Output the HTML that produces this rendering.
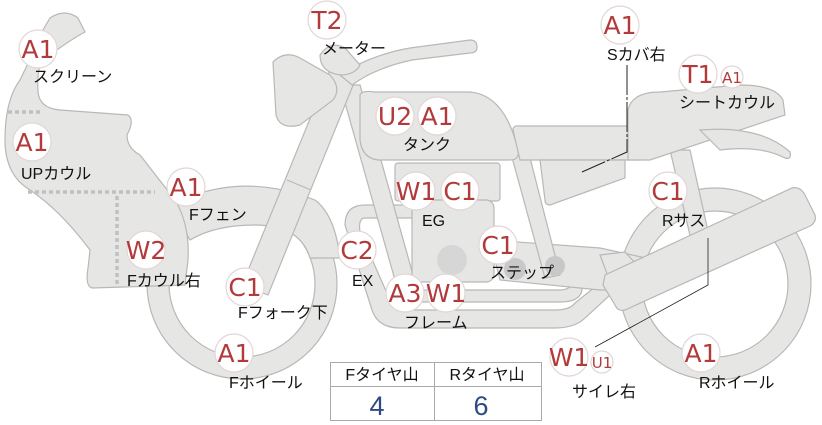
<!DOCTYPE html>
<html><head><meta charset="utf-8"><style>
html,body{margin:0;padding:0;background:#fff;}
svg{display:block;}
.s{fill:#e6e6e4;stroke:#b8b8b8;stroke-width:1.2;}
.b circle{fill:#fff;stroke:#e2d6d6;stroke-width:1.2;}
.b text{fill:#b23a3a;font-family:"DejaVu Sans","Liberation Sans",sans-serif;font-size:25px;text-anchor:middle;}
.l{font-family:"Liberation Sans","Noto Sans CJK JP",sans-serif;font-size:16px;fill:#111;}
</style></head><body>
<svg width="822" height="425" viewBox="0 0 822 425" xmlns="http://www.w3.org/2000/svg">
<circle cx="242" cy="284" r="95" class="s"/>
<circle cx="242" cy="284" r="73" fill="#fff" stroke="#b8b8b8" stroke-width="1.2"/>
<circle cx="715" cy="284" r="96" class="s"/>
<circle cx="715" cy="284" r="73" fill="#fff" stroke="#b8b8b8" stroke-width="1.2"/>
<path class="s" d="M170 205 Q240 170 315 200 Q335 215 340 258 L310 258 Q300 225 255 225 Q215 225 190 240 Z"/>
<path class="s" d="M345 225 Q345 205 365 205 L420 205 L420 218 L365 218 Q358 218 360 232 L390 300 Q395 310 410 310 L555 310 Q570 310 575 303 L600 283 L610 295 L585 318 Q575 328 555 328 L400 328 Q378 328 372 310 Z"/>
<path class="s" d="M395 290 L560 290 Q572 290 572 280 L572 265 L580 265 L582 290 Q580 302 560 302 L400 302 Z"/>
<path class="s" d="M340 85 L360 85 L420 300 L402 305 Z"/>
<rect class="s" x="395" y="163" width="105" height="38" rx="3"/>
<rect class="s" x="412" y="200" width="82" height="82" rx="8"/>
<circle cx="452" cy="260" r="15" fill="#d6d6d6"/>
<path class="s" d="M490 240 L600 248 L655 260 L655 290 L600 290 L500 280 Z"/>
<path class="s" d="M600 255 L625 252 L660 290 L615 295 Z"/>
<path class="s" d="M510 150 L528 150 L560 275 L545 278 Z"/>
<circle cx="515" cy="269" r="11" fill="#c8c8c8"/><circle cx="555" cy="266" r="10" fill="#c8c8c8"/>
<path class="s" d="M670 150 L690 150 L710 240 L692 244 Z"/>
<path class="s" d="M605 275 L792 188 Q800 186 805 195 L815 215 Q817 222 810 226 L625 310 Q618 312 615 305 L603 285 Z"/>
<path class="s" d="M360 95 Q362 90 375 92 L470 92 Q505 95 518 150 Q520 160 510 160 L378 160 Q362 158 360 140 Z"/>
<path class="s" d="M513 130 Q513 125 520 126 L640 126 L640 160 L520 160 Z"/>
<path class="s" d="M540 160 L625 160 L625 178 L550 205 Q545 205 545 200 Z"/>
<path class="s" d="M628 110 Q632 92 660 92 L740 85 Q775 85 783 100 L785 115 L650 160 L628 160 Z"/>
<path class="s" d="M700 130 Q760 125 790 152 Q792 160 785 158 Q760 145 720 150 Z"/>
<path class="s" d="M330 70 L356 78 L268 295 L242 285 Z"/>
<path d="M287 180 L311 190" stroke="#b8b8b8" stroke-width="1.2"/>
<path class="s" d="M273 62 Q285 50 300 58 L330 75 Q342 88 333 100 L300 125 Q280 130 276 115 Z"/>
<path class="s" d="M340 75 Q370 55 410 48 L470 40 Q477 40 477 47 Q477 53 470 53 L412 60 Q375 68 352 85 Z"/>
<path class="s" d="M320 55 Q330 40 345 48 L360 65 Q355 75 340 75 Q320 72 320 55 Z"/>
<path class="s" d="M50 18 Q65 8 78 18 L85 32 Q70 40 50 55 Q36 60 38 90 Q38 108 60 110 L128 115 Q135 120 127 135 Q127 148 140 155 L175 200 Q190 225 188 260 L185 285 L92 288 Q85 286 88 268 L90 250 Q60 210 30 190 Q5 175 5 140 Q5 100 20 80 Q30 60 40 35 Z"/>
<path d="M8 112 L40 112 M28 192 L155 192 M117 196 L117 285" stroke="#c0c0c4" stroke-width="3.5" stroke-dasharray="4,3" fill="none"/>
<path d="M627 65 L627 152 L582 172" stroke="#222" stroke-width="1" fill="none" stroke-dasharray="30,2,3,2"/>
<path d="M708 238 L708 285 L595 347" stroke="#222" stroke-width="0.8" fill="none"/>
<g font-family="Liberation Sans,Noto Sans CJK JP,sans-serif">
<rect x="330.5" y="362.5" width="211" height="58" fill="#fff" stroke="#aaa"/>
<line x1="330" y1="386.5" x2="541" y2="386.5" stroke="#aaa"/>
<line x1="434.5" y1="362" x2="434.5" y2="421" stroke="#aaa"/>
<text x="382" y="380" font-size="16" text-anchor="middle" fill="#111">Fタイヤ山</text>
<text x="487" y="380" font-size="16" text-anchor="middle" fill="#111">Rタイヤ山</text>
<text x="377" y="415" font-size="27" text-anchor="middle" fill="#2d4a86">4</text>
<text x="481" y="415" font-size="27" text-anchor="middle" fill="#2d4a86">6</text>
</g>
<g class="b">
<circle cx="38" cy="49" r="19"/><text x="38" y="58">A1</text>
<circle cx="32" cy="142" r="19"/><text x="32" y="151">A1</text>
<circle cx="186" cy="187" r="19"/><text x="186" y="196">A1</text>
<circle cx="146" cy="250" r="19"/><text x="146" y="259">W2</text>
<circle cx="245" cy="287" r="19"/><text x="245" y="296">C1</text>
<circle cx="234" cy="353" r="19"/><text x="234" y="362">A1</text>
<circle cx="327" cy="20" r="19"/><text x="327" y="29">T2</text>
<circle cx="395" cy="116" r="19"/><text x="395" y="125">U2</text>
<circle cx="437" cy="116" r="19"/><text x="437" y="125">A1</text>
<circle cx="416" cy="191" r="19"/><text x="416" y="200">W1</text>
<circle cx="460" cy="191" r="19"/><text x="460" y="200">C1</text>
<circle cx="357" cy="250" r="19"/><text x="357" y="259">C2</text>
<circle cx="498" cy="245" r="19"/><text x="498" y="254">C1</text>
<circle cx="405" cy="293" r="19"/><text x="405" y="302">A3</text>
<circle cx="446" cy="293" r="19"/><text x="446" y="302">W1</text>
<circle cx="620" cy="25" r="19"/><text x="620" y="34">A1</text>
<circle cx="698" cy="74" r="19"/><text x="698" y="83">T1</text>
<circle cx="732" cy="77" r="11"/><text x="732" y="83" style="font-size:15px">A1</text>
<circle cx="668" cy="191" r="19"/><text x="668" y="200">C1</text>
<circle cx="569" cy="357" r="19"/><text x="569" y="366">W1</text>
<circle cx="602" cy="362" r="11"/><text x="602" y="368" style="font-size:15px">U1</text>
<circle cx="701" cy="353" r="19"/><text x="701" y="362">A1</text>
</g>
<g class="l">
<text x="33" y="82">スクリーン</text>
<text x="21" y="179">UPカウル</text>
<text x="189" y="220">Fフェン</text>
<text x="127" y="286">Fカウル右</text>
<text x="238" y="318">Fフォーク下</text>
<text x="229" y="388">Fホイール</text>
<text x="322" y="54">メーター</text>
<text x="403" y="150">タンク</text>
<text x="422" y="226">EG</text>
<text x="352" y="286">EX</text>
<text x="490" y="278">ステップ</text>
<text x="404" y="328">フレーム</text>
<text x="607" y="60">Sカバ右</text>
<text x="679" y="108">シートカウル</text>
<text x="662" y="226">Rサス</text>
<text x="572" y="397">サイレ右</text>
<text x="699" y="388">Rホイール</text>
</g>
</svg>
</body></html>
